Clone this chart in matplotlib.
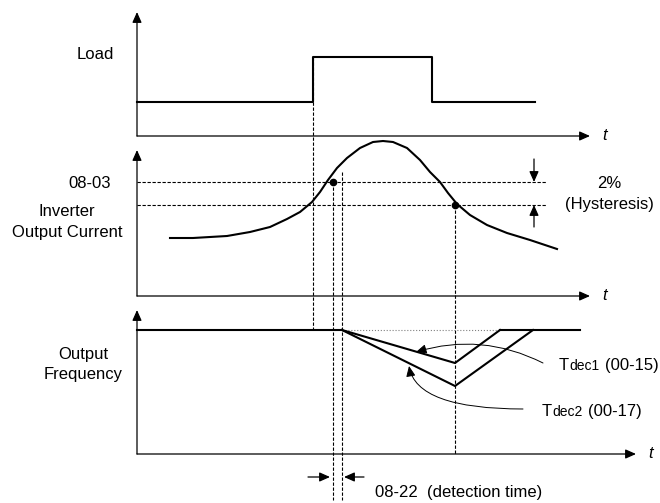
import matplotlib.pyplot as plt

plt.rcParams['font.family'] = ['Liberation Sans', 'DejaVu Sans']

# Eventos (en pixeles de la figura, eje y hacia abajo)
t_load_on = 313
t_load_off = 432
t_det1 = 333      # cruce de 08-03
t_det2 = 342      # fin del tiempo de deteccion 08-22
t_rec = 455       # cruce del nivel de histeresis

# Carga
load_t = [137, t_load_on, t_load_on, t_load_off, t_load_off, 535]
load_v = [102, 102, 57, 57, 102, 102]

# Corriente de salida del inversor
curr_t = [170, 193, 227, 250, 270, 287, 300, 312, 320, 328, 337, 347, 360, 373,
          383, 393, 407, 420, 430, 440, 448, 457, 470, 487, 507, 530, 557]
curr_v = [238, 238, 236, 232, 227, 219, 212, 202, 192, 180, 168, 158, 148, 142,
          141, 142, 148, 160, 172, 182, 193, 204, 215, 225, 233, 240, 249]
level_0803 = 182
level_hys = 205

# Frecuencia de salida
freq_high = 330
freq_t1 = [137, t_det2]
freq_t2 = [500, 580]
dec1_t = [t_det2, t_rec, 500]
dec1_v = [freq_high, 363, freq_high]
dec2_t = [t_det2, t_rec, 533]
dec2_v = [freq_high, 386, freq_high]

# Ejes de tiempo
axis_x0 = 137
axis_rows = [(136, 12, 590), (296, 150, 590), (454, 310, 636)]

fig = plt.figure(figsize=(6.6, 5.03), dpi=100)
ax = fig.add_axes([0, 0, 1, 1])
ax.set_xlim(0, 660)
ax.set_ylim(503, 0)
ax.axis('off')

arrow = dict(arrowstyle='-|>,head_length=0.45,head_width=0.2', mutation_scale=14,
             lw=0.9, color='black', shrinkA=0, shrinkB=0)

for y_base, y_top, x_end in axis_rows:
    ax.annotate('', xy=(axis_x0, y_top), xytext=(axis_x0, y_base), arrowprops=arrow)
    ax.annotate('', xy=(x_end, y_base), xytext=(axis_x0, y_base), arrowprops=arrow)
    ax.text(x_end + 15, y_base - 1, 't', style='italic', fontsize=12, ha='center', va='center')

# Lineas de referencia punteadas
dash = dict(color='black', lw=0.8, dashes=(3, 1.5))
ax.plot([axis_x0, 546], [level_0803, level_0803], **dash)
ax.plot([axis_x0, 546], [level_hys, level_hys], **dash)
ax.plot([t_load_on, t_load_on], [57, freq_high], **dash)
ax.plot([t_det1, t_det1], [level_0803, 500], **dash)
ax.plot([t_det2, t_det2], [172, 500], **dash)
ax.plot([t_rec, t_rec], [level_hys, 454], **dash)
ax.plot([t_det2, 500], [freq_high, freq_high], color='gray', lw=0.8, ls=':')

# Curvas
ax.plot(load_t, load_v, color='black', lw=1.5)
ax.plot(curr_t, curr_v, color='black', lw=1.5)
ax.plot([t_det1, t_rec], [level_0803, level_hys], 'o', color='black', ms=4.5)
ax.plot(freq_t1, [freq_high] * 2, color='black', lw=1.5)
ax.plot(freq_t2, [freq_high] * 2, color='black', lw=1.5)
ax.plot(dec1_t, dec1_v, color='black', lw=1.5)
ax.plot(dec2_t, dec2_v, color='black', lw=1.5)

# Histeresis
ax.annotate('', xy=(534, level_0803), xytext=(534, 159), arrowprops=arrow)
ax.annotate('', xy=(534, level_hys), xytext=(534, 227), arrowprops=arrow)
ax.text(609, 183, '2%', fontsize=12, ha='center', va='center')
ax.text(609, 204, '(Hysteresis)', fontsize=12, ha='center', va='center')

# Tiempo de deteccion
ax.annotate('', xy=(t_det1 - 3, 477), xytext=(308, 477), arrowprops=arrow)
ax.annotate('', xy=(t_det2 + 2, 477), xytext=(364, 477), arrowprops=arrow)
ax.text(375, 493, '08-22  (detection time)', fontsize=12, ha='left', va='center')

# Tdec1 / Tdec2
thin = dict(arrow, lw=0.7)
ax.annotate('', xy=(416, 352), xytext=(543, 363),
            arrowprops=dict(thin, connectionstyle='arc3,rad=0.2'))
ax.annotate('', xy=(409, 366), xytext=(523, 409),
            arrowprops=dict(thin, connectionstyle='angle3,angleA=0,angleB=100'))
ax.text(559, 370, 'T', fontsize=12, ha='left', va='baseline')
ax.text(569, 370, 'dec1', fontsize=10, ha='left', va='baseline')
ax.text(605, 370, '(00-15)', fontsize=12, ha='left', va='baseline')
ax.text(542, 416, 'T', fontsize=12, ha='left', va='baseline')
ax.text(552, 416, 'dec2', fontsize=10, ha='left', va='baseline')
ax.text(588, 416, '(00-17)', fontsize=12, ha='left', va='baseline')

# Etiquetas
ax.text(95, 54, 'Load', fontsize=12, ha='center', va='center')
ax.text(90, 184, '08-03', fontsize=12, ha='center', va='center')
ax.text(67, 212, 'Inverter', fontsize=12, ha='center', va='center')
ax.text(67, 232, 'Output Current', fontsize=12, ha='center', va='center')
ax.text(83, 355, 'Output', fontsize=12, ha='center', va='center')
ax.text(83, 375, 'Frequency', fontsize=12, ha='center', va='center')

plt.savefig('out.png', dpi=100)
